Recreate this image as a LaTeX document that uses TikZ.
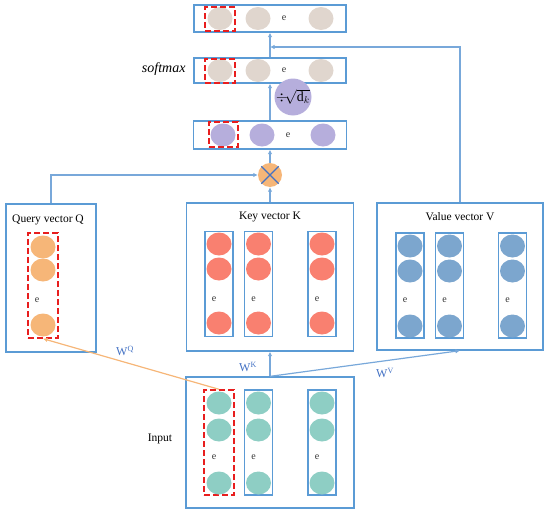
\documentclass[tikz,border=0pt]{standalone}
\usepackage{fontspec}
\setmainfont{Liberation Serif}
\usetikzlibrary{shapes.geometric,arrows.meta}

\definecolor{boxblue}{RGB}{91,155,213}
\definecolor{linkblue}{RGB}{120,168,218}
\definecolor{selred}{RGB}{232,30,30}
\definecolor{beige}{RGB}{224,214,206}
\definecolor{lav}{RGB}{182,174,220}
\definecolor{peach}{RGB}{246,182,120}
\definecolor{salmon}{RGB}{249,128,112}
\definecolor{steel}{RGB}{124,166,206}
\definecolor{teal}{RGB}{142,206,196}
\definecolor{wblue}{RGB}{68,114,196}

\tikzset{
  box/.style={draw=boxblue, line width=1.3pt, inner sep=0pt},
  colbox/.style={draw=boxblue, line width=1.2pt, inner sep=0pt, minimum width=28, minimum height=105},
  sel/.style={draw=selred, line width=1.4pt, dash pattern=on 6pt off 3pt, inner sep=0pt},
  dot/.style={ellipse, inner sep=0pt, minimum width=25, minimum height=23},
  ell/.style={font=\fontsize{10}{10}\selectfont, text=black!80},
  lab/.style={font=\fontsize{11.5}{13}\selectfont},
  wlab/.style={font=\fontsize{12}{14}\selectfont, text=wblue},
  arr/.style={draw=linkblue, line width=1.2pt, -{Latex[length=4.5pt,width=4.5pt]}}
}

\begin{document}
\begin{tikzpicture}[x=1pt,y=-1pt]
  \useasboundingbox (0,0) rectangle (550,514);

  % output rows
  \node[box, minimum width=152, minimum height=27] (out) at (270,18.5) {};
  \node[box, minimum width=152, minimum height=25] (soft) at (270,70.5) {};
  \node[box, minimum width=153, minimum height=28] (sc) at (270,135) {};

  \foreach \x/\n in {220/a,258/b,321/c} {
    \node[dot, fill=beige] (out\n) at (\x,18.5) {};
    \node[dot, fill=beige] (soft\n) at (\x,70.5) {};
  }
  \foreach \x/\n in {223/a,262/b,323/c}
    \node[dot, fill=lav] (sc\n) at (\x,135) {};
  \node[ell] (oute) at (284,18.5) {e};
  \node[ell] (softe) at (284,70.5) {e};
  \node[ell] (sce) at (288,135) {e};

  \node[sel, minimum width=30, minimum height=24] (outsel) at (220,19) {};
  \node[sel, minimum width=30, minimum height=24] (softsel) at (220,71) {};
  \node[sel, minimum width=29, minimum height=25] (scsel) at (223.5,134.5) {};

  \node[font=\fontsize{14}{16}\selectfont\itshape, anchor=east] (smax) at (189,69) {softmax};
  \node[circle, fill=lav, minimum size=36, inner sep=0pt, font=\fontsize{14}{16}\selectfont] (dk) at (293,97) {$\div\!\sqrt{\mathrm{d}_k}$};

  % product
  \node[circle, fill=peach, minimum size=24, inner sep=0pt] (mul) at (270,175) {};
  \draw[wblue, line width=1.2pt] (mul.north west) -- (mul.south east);
  \draw[wblue, line width=1.2pt] (mul.north east) -- (mul.south west);

  % query
  \node[box, minimum width=90, minimum height=148] (qbox) at (51,278) {};
  \node[lab] (qlab) at (48,220) {Query vector Q};
  \node[sel, minimum width=30, minimum height=105] (qcol) at (43,285.5) {};
  \foreach \y/\n in {247/a,270/b,325/c}
    \node[dot, fill=peach] (q\n) at (43,\y) {};
  \node[ell] (qe) at (37,300) {e};

  % key
  \node[box, minimum width=167, minimum height=148] (kbox) at (270,277) {};
  \node[lab] (klab) at (270,217) {Key vector K};
  \foreach \x/\c in {219/1,258.5/2,322/3} {
    \node[colbox] (kcol\c) at (\x,284) {};
    \foreach \y/\n in {244/a,269/b,323/c}
      \node[dot, fill=salmon] (k\c\n) at (\x,\y) {};
    \node[ell] (k\c e) at (\x-5,299) {e};
  }

  % value
  \node[box, minimum width=166, minimum height=147] (vbox) at (460,276.5) {};
  \node[lab] (vlab) at (460,217) {Value vector V};
  \foreach \x/\c in {410/1,449.5/2,512.5/3} {
    \node[colbox] (vcol\c) at (\x,285.5) {};
    \foreach \y/\n in {246/a,271/b,326/c}
      \node[dot, fill=steel] (v\c\n) at (\x,\y) {};
    \node[ell] (v\c e) at (\x-5,300) {e};
  }

  % input
  \node[box, minimum width=168, minimum height=131] (inp) at (270,442.5) {};
  \node[lab] (ilab) at (160,439) {Input};
  \node[sel, minimum width=30, minimum height=105] (icol1) at (219,442.5) {};
  \node[colbox] (icol2) at (258.5,442.5) {};
  \node[colbox] (icol3) at (322,442.5) {};
  \foreach \x/\c in {219/1,258.5/2,322/3} {
    \foreach \y/\n in {403/a,430/b,483/c}
      \node[dot, fill=teal] (i\c\n) at (\x,\y) {};
    \node[ell] (i\c e) at (\x-5,457) {e};
  }

  % connectors
  \coordinate (join) at (270,47);
  \draw[arr] (inp.north) -- (kbox.south);
  \draw[arr] (inp.north) -- (vbox.south);
  \draw[draw=peach, line width=1.2pt, -{Latex[length=4.5pt,width=4.5pt]}] (icol1.north) -- (qcol.south);
  \draw[arr] (qbox.north) |- (mul.west);
  \draw[arr] (kbox.north) -- (mul.south);
  \draw[arr] (mul.north) -- (sc.south);
  \draw[arr] (sc.north) -- (soft.south);
  \draw[arr] (soft.north) -- (out.south);
  \draw[arr] (vbox.north) |- (join);

  \node[wlab] (wq) at (125,351) {W\textsuperscript{Q}};
  \node[wlab] (wk) at (248,367) {W\textsuperscript{K}};
  \node[wlab] (wv) at (385,373) {W\textsuperscript{V}};
\end{tikzpicture}
\end{document}
